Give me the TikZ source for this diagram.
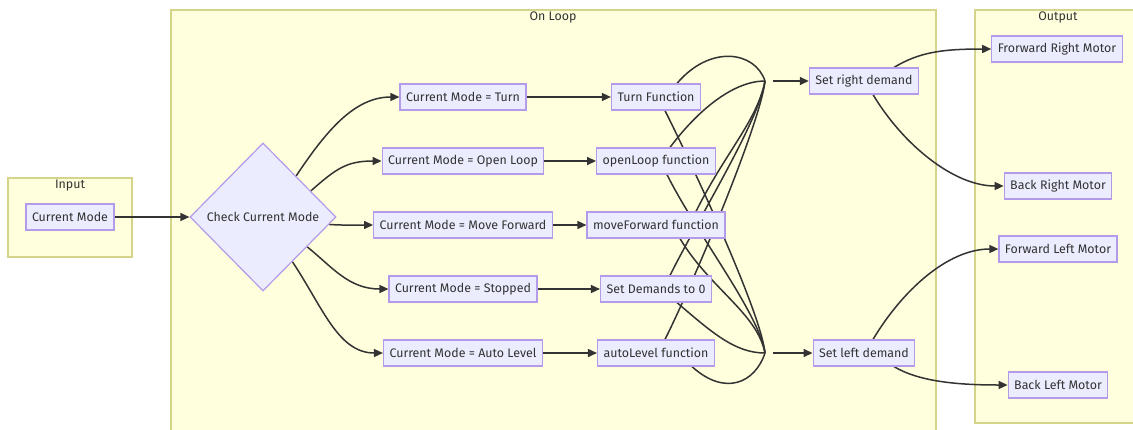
\documentclass[tikz,border=0pt]{standalone}
\usepackage{fontspec}
\setmainfont{Fira Sans}
\usetikzlibrary{arrows.meta,shapes.geometric,calc}
\definecolor{clusterfill}{HTML}{FFFFDE}
\definecolor{clusterline}{HTML}{D4D48A}
\definecolor{nodefill}{HTML}{ECECFF}
\definecolor{nodeline}{HTML}{B49BEA}
\definecolor{ink}{HTML}{333333}
\pgfdeclarelayer{bg}
\pgfdeclarelayer{edges}
\pgfsetlayers{bg,edges,main}
\tikzset{
  box/.style={draw=nodeline, fill=nodefill, line width=1.2pt, text=ink,
    inner xsep=6pt, inner ysep=0pt, minimum height=26pt,
    font=\fontsize{12.4}{14}\selectfont},
  decision/.style={diamond, draw=nodeline, fill=nodefill, line width=1.2pt, text=ink,
    minimum width=146pt, minimum height=148pt, inner sep=0pt,
    font=\fontsize{12.4}{14}\selectfont},
  cluster/.style={draw=clusterline, fill=clusterfill, line width=1.2pt},
  clabel/.style={text=ink, font=\fontsize{12.4}{14}\selectfont},
  flow/.style={draw=ink, line width=1.5pt, -{Triangle[length=9pt,width=8pt]}},
  wire/.style={draw=ink, line width=1.5pt},
}
\begin{document}
\begin{tikzpicture}[x=1pt,y=-1pt]
\useasboundingbox (0,0) rectangle (1133,429);

% groups
\begin{pgfonlayer}{bg}
  \draw[cluster] (8,178) rectangle (132,257);
  \draw[cluster] (171,10) rectangle (936,440);
  \draw[cluster] (975,10) rectangle (1140,423);
\end{pgfonlayer}
\node[clabel] (linput) at (70,186) {Input};
\node[clabel] (lloop) at (553,17) {On Loop};
\node[clabel] (loutput) at (1058,17) {Output};

% nodes
\node[box] (inmode) at (70,217) {Current Mode};
\node[decision] (cm) at (263,217) {Check Current Mode};

\node[box] (cturn) at (463,97) {Current Mode = Turn};
\node[box] (copen) at (463,161) {Current Mode = Open Loop};
\node[box] (cmove) at (463,225) {Current Mode = Move Forward};
\node[box] (cstop) at (463,289) {Current Mode = Stopped};
\node[box] (cauto) at (463,353) {Current Mode = Auto Level};

\node[box] (tf) at (656,97) {Turn Function};
\node[box] (of) at (656,161) {openLoop function};
\node[box] (mf) at (656,225) {moveForward function};
\node[box] (sd) at (656,289) {Set Demands to 0};
\node[box] (al) at (656,353) {autoLevel function};

\node[box] (sr) at (864,81) {Set right demand};
\node[box] (sl) at (864,353) {Set left demand};

\node[box] (frm) at (1057,49) {Frorward Right Motor};
\node[box] (brm) at (1058,186) {Back Right Motor};
\node[box] (flm) at (1058,249) {Forward Left Motor};
\node[box] (blm) at (1058,385) {Back Left Motor};

\coordinate (jR) at (765,81);
\coordinate (jRo) at (773,81);
\coordinate (jL) at (765,353);
\coordinate (jLo) at (773,353);

\begin{pgfonlayer}{edges}
  \draw[flow] (inmode.east) -- (cm.west);

  \draw[flow] ($(cm.north)!0.45!(cm.east)$) .. controls +(30,-45) and +(-45,0) .. (cturn.west);
  \draw[flow] ($(cm.north)!0.65!(cm.east)$) .. controls +(25,-22) and +(-35,0) .. (copen.west);
  \draw[flow] ($(cm.east)!0.1!(cm.south)$) .. controls +(15,1) and +(-15,0) .. (cmove.west);
  \draw[flow] ($(cm.east)!0.4!(cm.south)$) .. controls +(25,20) and +(-40,0) .. (cstop.west);
  \draw[flow] ($(cm.east)!0.6!(cm.south)$) .. controls +(30,45) and +(-45,0) .. (cauto.west);

  \draw[flow] (cturn.east) -- (tf.west);
  \draw[flow] (copen.east) -- (of.west);
  \draw[flow] (cmove.east) -- (mf.west);
  \draw[flow] (cstop.east) -- (sd.west);
  \draw[flow] (cauto.east) -- (al.west);

  % every function feeds the right demand
  \draw[wire] ([xshift=21pt]tf.north) .. controls +(33,-39) and +(-10,-30) .. (jR);
  \draw[wire] ([xshift=14pt]of.north) .. controls +(30,-40) and +(-30,0) .. (jR);
  \draw[wire] ([xshift=40pt]mf.north) .. controls +(30,-60) and +(-8,40) .. (jR);
  \draw[wire] ([xshift=14pt]sd.north) .. controls +(30,-60) and +(-6,40) .. (jR);
  \draw[wire] ([xshift=9pt]al.north) .. controls +(30,-60) and +(-4,40) .. (jR);

  % every function feeds the left demand
  \draw[wire] ([xshift=9pt]tf.south) .. controls +(30,60) and +(-4,-40) .. (jL);
  \draw[wire] ([xshift=11pt]of.south) .. controls +(30,60) and +(-6,-40) .. (jL);
  \draw[wire] ([xshift=24pt]mf.south) .. controls +(30,50) and +(-8,-40) .. (jL);
  \draw[wire] ([xshift=21pt]sd.south) .. controls +(35,30) and +(-30,0) .. (jL);
  \draw[wire] ([xshift=36pt]al.south) .. controls +(33,30) and +(-10,30) .. (jL);

  \draw[flow] (jRo) -- (sr.west);
  \draw[flow] (jLo) -- (sl.west);

  \draw[flow] ([xshift=30pt]sr.north) .. controls +(25,-15) and +(-50,0) .. (frm.west);
  \draw[flow] ([xshift=9pt]sr.south) .. controls +(30,50) and +(-50,0) .. (brm.west);
  \draw[flow] ([xshift=9pt]sl.north) .. controls +(30,-50) and +(-50,0) .. (flm.west);
  \draw[flow] ([xshift=30pt]sl.south) .. controls +(25,15) and +(-50,0) .. (blm.west);
\end{pgfonlayer}
\end{tikzpicture}
\end{document}
